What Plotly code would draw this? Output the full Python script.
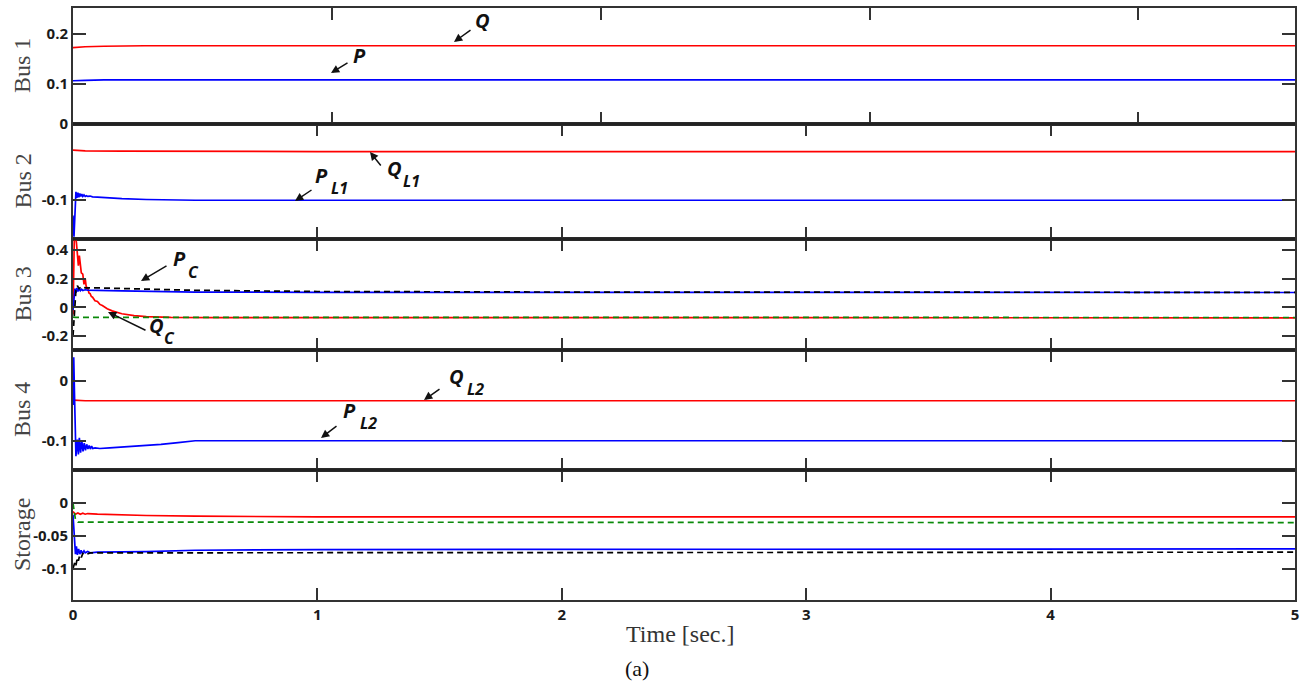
import plotly.graph_objects as go

# ---------------- data ----------------
# Bus 1
t_bus1 = [0, 0.04, 0.08, 0.15, 0.3, 5.0]
bus1_Q = [0.171, 0.173, 0.174, 0.175, 0.176, 0.176]
bus1_P = [0.106, 0.107, 0.107, 0.108, 0.108, 0.108]

# Bus 2
t_bus2_Q = [0, 0.05, 0.2, 1.0, 5.0]
bus2_QL1 = [-0.034, -0.035, -0.0355, -0.036, -0.036]
t_bus2_P = [0, 0.004, 0.012, 0.016, 0.02, 0.024, 0.028, 0.032, 0.036, 0.04, 0.045, 0.05,
            0.055, 0.06, 0.07, 0.08, 0.1, 0.15, 0.2, 0.3, 0.4, 0.5, 5.0]
bus2_PL1 = [-0.12, -0.148, -0.089, -0.097, -0.090, -0.096, -0.091, -0.095, -0.092, -0.095,
            -0.093, -0.095, -0.094, -0.095, -0.0945, -0.0955, -0.096, -0.097, -0.098, -0.099,
            -0.0995, -0.1, -0.1]

# Bus 3
t_bus3_Q = [0, 0.006, 0.014, 0.022, 0.026, 0.034, 0.04, 0.045, 0.05, 0.055, 0.06, 0.065, 0.07,
            0.075, 0.08, 0.09, 0.1, 0.11, 0.12, 0.14, 0.16, 0.2, 0.25, 0.3, 0.4, 0.6, 5.0]
bus3_QC = [-0.05, 0.55, 0.45, 0.29, 0.36, 0.24, 0.23, 0.16, 0.2, 0.13, 0.14, 0.1, 0.095,
           0.075, 0.07, 0.045, 0.04, 0.02, 0.012, -0.01, -0.025, -0.045, -0.058, -0.065,
           -0.07, -0.072, -0.073]
t_bus3_P = [0, 0.004, 0.008, 0.012, 0.016, 0.02, 0.025, 0.03, 0.035, 0.04, 0.05, 0.06, 0.08,
            0.1, 0.2, 0.3, 0.5, 1.0, 5.0]
bus3_P = [-0.02, 0.06, 0.13, 0.10, 0.135, 0.11, 0.13, 0.115, 0.125, 0.117, 0.122, 0.119,
          0.12, 0.118, 0.114, 0.11, 0.106, 0.104, 0.103]
t_bus3_Pref = [0, 0.004, 0.008, 0.012, 0.018, 0.025, 0.035, 0.05, 0.1, 0.2, 0.3, 0.5, 1.0,
               2.0, 5.0]
bus3_Pref = [-0.2, -0.1, 0.05, 0.12, 0.15, 0.13, 0.145, 0.135, 0.135, 0.13, 0.125, 0.118,
             0.11, 0.106, 0.104]
t_bus3_Qref = [0, 0.01, 5.0]
bus3_Qref = [-0.068, -0.07, -0.071]

# Bus 4
t_bus4_Q = [0, 0.05, 5.0]
bus4_QL2 = [-0.032, -0.033, -0.033]
t_bus4_P = [0, 0.003, 0.006, 0.012, 0.018, 0.022, 0.026, 0.031, 0.036, 0.041, 0.046, 0.051,
            0.056, 0.061, 0.066, 0.071, 0.076, 0.081, 0.09, 0.11, 0.15, 0.22, 0.3, 0.36,
            0.43, 0.5, 5.0]
bus4_PL2 = [-0.04, 0.04, -0.02, -0.126, -0.098, -0.123, -0.095, -0.12, -0.1, -0.118, -0.104,
            -0.116, -0.106, -0.114, -0.108, -0.114, -0.109, -0.113, -0.112, -0.113, -0.112,
            -0.11, -0.108, -0.106, -0.103, -0.1, -0.1]

# Storage
t_sto_Q = [0, 0.01, 0.02, 0.03, 0.04, 0.05, 0.06, 0.1, 0.3, 0.5, 1.0, 5.0]
sto_Q = [-0.013, -0.017, -0.015, -0.017, -0.0155, -0.017, -0.016, -0.017, -0.019, -0.02,
         -0.021, -0.021]
t_sto_Qref = [0, 0.01, 0.02, 5.0]
sto_Qref = [0.0, -0.025, -0.029, -0.03]
t_sto_P = [0, 0.004, 0.01, 0.014, 0.018, 0.023, 0.028, 0.033, 0.038, 0.045, 0.05, 0.06,
           0.07, 0.1, 0.2, 0.3, 0.5, 1.0, 5.0]
sto_P = [-0.018, -0.05, -0.078, -0.066, -0.079, -0.07, -0.078, -0.072, -0.077, -0.073,
         -0.076, -0.074, -0.076, -0.075, -0.075, -0.074, -0.072, -0.071, -0.07]
t_sto_Pref = [0, 0.008, 0.012, 0.018, 0.022, 0.028, 0.034, 0.04, 0.05, 0.07, 5.0]
sto_Pref = [-0.1, -0.09, -0.095, -0.083, -0.088, -0.079, -0.083, -0.077, -0.079, -0.076,
            -0.075]

# axes
panel_names = ["Bus 1", "Bus 2", "Bus 3", "Bus 4", "Storage"]
x_ticks = [0, 1, 2, 3, 4, 5]
x_ticklabels = ["0", "1", "2", "3", "4", "5"]
bus1_yticks = [0.1, 0.2]
bus1_yticklabels = ["0.1", "0.2"]
bus2_yticks = [-0.1, 0]
bus2_yticklabels = ["-0.1", "0"]
bus3_yticks = [-0.2, 0, 0.2, 0.4]
bus3_yticklabels = ["-0.2", "0", "0.2", "0.4"]
bus4_yticks = [-0.1, 0]
bus4_yticklabels = ["-0.1", "0"]
sto_yticks = [-0.1, -0.05, 0]
sto_yticklabels = ["-0.1", "-0.05", "0"]

# ---------------- layout geometry ----------------
W, H = 1311, 688
ML, MR, MT, MB = 73, 16, 8, 88
PW = W - ML - MR
PH = H - MT - MB
# panel boundaries in pixels (top -> bottom)
bounds_px = [8, 124, 239, 350, 470, 600]


def py2paper(py):
    return (MT + PH - py) / PH


def px2paper(px):
    return (px - ML) / PW


RED = "#ff0000"
BLUE = "#0000ff"
BLACK = "#000000"
GREEN = "#0a8a0a"
LW = 1.7
DASH = "6px,4px"

fig = go.Figure()


def add(t, y, color, idx, dash=None):
    fig.add_trace(go.Scatter(
        x=t, y=y, mode="lines",
        line=dict(color=color, width=LW, dash=dash if dash else "solid"),
        xaxis="x" if idx == 1 else f"x{idx}",
        yaxis="y" if idx == 1 else f"y{idx}",
        showlegend=False, hoverinfo="skip"))


add(t_bus1, bus1_Q, RED, 1)
add(t_bus1, bus1_P, BLUE, 1)
add(t_bus2_Q, bus2_QL1, RED, 2)
add(t_bus2_P, bus2_PL1, BLUE, 2)
add(t_bus3_Q, bus3_QC, RED, 3)
add(t_bus3_P, bus3_P, BLUE, 3)
add(t_bus3_Pref, bus3_Pref, BLACK, 3, DASH)
add(t_bus3_Qref, bus3_Qref, GREEN, 3, DASH)
add(t_bus4_Q, bus4_QL2, RED, 4)
add(t_bus4_P, bus4_PL2, BLUE, 4)
add(t_sto_Q, sto_Q, RED, 5)
add(t_sto_P, sto_P, BLUE, 5)
add(t_sto_Qref, sto_Qref, GREEN, 5, DASH)
add(t_sto_Pref, sto_Pref, BLACK, 5, DASH)

y_ranges = [[0.0205, 0.251], [-0.151, 0.0003], [-0.297, 0.475], [-0.149, 0.052],
            [-0.148, 0.0505]]
y_ticks = [bus1_yticks, bus2_yticks, bus3_yticks, bus4_yticks, sto_yticks]
y_ticklabels = [bus1_yticklabels, bus2_yticklabels, bus3_yticklabels, bus4_yticklabels,
                sto_yticklabels]
x_ranges = [[0.035, 4.583], [0, 5], [0, 5], [0, 5], [0, 5]]

tickfont = dict(family="Open Sans", size=15, color="#1a1a1a", weight="bold")
layout = {}
for i in range(5):
    idx = i + 1
    xa = "xaxis" if idx == 1 else f"xaxis{idx}"
    ya = "yaxis" if idx == 1 else f"yaxis{idx}"
    yd = [py2paper(bounds_px[i + 1]), py2paper(bounds_px[i])]
    layout[xa] = dict(
        domain=[0, 1], range=x_ranges[i], anchor="y" if idx == 1 else f"y{idx}",
        tickvals=x_ticks, ticktext=x_ticklabels, showticklabels=(idx == 5),
        ticks="inside", ticklen=12, tickwidth=1.5, tickcolor="#333333",
        showline=True, mirror="ticks", linecolor="#333333", linewidth=2,
        showgrid=False, zeroline=False, tickfont=tickfont, fixedrange=True,
        automargin=False)
    layout[ya] = dict(
        domain=yd, range=y_ranges[i], anchor="x" if idx == 1 else f"x{idx}",
        tickvals=y_ticks[i], ticktext=y_ticklabels[i],
        ticks="inside", ticklen=13, tickwidth=1.5, tickcolor="#333333",
        showline=True, mirror="ticks", linecolor="#333333", linewidth=2,
        showgrid=False, zeroline=False, tickfont=tickfont, fixedrange=True,
        automargin=False)

fig.update_layout(
    width=W, height=H,
    margin=dict(l=ML, r=MR, t=MT, b=MB, pad=0, autoexpand=False),
    paper_bgcolor="white", plot_bgcolor="white",
    showlegend=False,
    **layout)

# thick separators between panels
for py in bounds_px[1:5]:
    fig.add_shape(type="line", xref="paper", yref="paper", x0=0, x1=1,
                  y0=py2paper(py), y1=py2paper(py),
                  line=dict(color="#222222", width=3))

# y-axis panel titles
title_font = dict(family="Liberation Serif", size=24, color="#444444")
for i, name in enumerate(panel_names):
    cy = (bounds_px[i] + bounds_px[i + 1]) / 2
    fig.add_annotation(text=name, xref="paper", yref="paper",
                       x=px2paper(22), y=py2paper(cy), textangle=-90,
                       showarrow=False, font=title_font,
                       xanchor="center", yanchor="middle")

fig.add_annotation(text="Time [sec.]", xref="paper", yref="paper",
                   x=px2paper(680), y=py2paper(634), showarrow=False,
                   font=dict(family="Liberation Serif", size=24, color="#333333"),
                   xanchor="center", yanchor="middle")
fig.add_annotation(text="(a)", xref="paper", yref="paper",
                   x=px2paper(637), y=py2paper(668), showarrow=False,
                   font=dict(family="Liberation Serif", size=22, color="#111111"),
                   xanchor="center", yanchor="middle")

# curve labels: (main letter, subscript, main centre px, sub centre px, arrow tail px, arrow head px)
labels = [
    ("Q", "", (483, 21), None, (472, 29), (454, 42)),
    ("P", "", (359, 55), None, (349, 62), (331, 73)),
    ("Q", "L1", (394, 168), (411, 181), (382, 167), (370, 152)),
    ("P", "L1", (321, 175), (339, 188), (313, 189), (295, 201)),
    ("P", "C", (179, 258), (193, 272), (168, 265), (141, 281)),
    ("Q", "C", (156, 325), (169, 338), (147, 331), (108, 312)),
    ("Q", "L2", (456, 376), (476, 389), (441, 388), (424, 400)),
    ("P", "L2", (349, 410), (368, 423), (338, 425), (321, 438)),
]
lab_font = dict(family="Open Sans", size=20, color="#111111", weight="bold", style="italic")
sub_font = dict(family="Open Sans", size=16, color="#111111", weight="bold", style="italic")
for main, sub, mc, sc, tail, head in labels:
    fig.add_annotation(text=main, xref="paper", yref="paper",
                       x=px2paper(mc[0]), y=py2paper(mc[1]), showarrow=False,
                       font=lab_font, xanchor="center", yanchor="middle")
    if sub:
        fig.add_annotation(text=sub, xref="paper", yref="paper",
                           x=px2paper(sc[0]), y=py2paper(sc[1]), showarrow=False,
                           font=sub_font, xanchor="center", yanchor="middle")
    fig.add_annotation(text="", xref="paper", yref="paper",
                       x=px2paper(head[0]), y=py2paper(head[1]),
                       ax=tail[0] - head[0], ay=tail[1] - head[1],
                       axref="pixel", ayref="pixel",
                       showarrow=True, arrowhead=2, arrowsize=1.1, arrowwidth=1.5,
                       arrowcolor="#111111")

fig.write_html("out.html")
